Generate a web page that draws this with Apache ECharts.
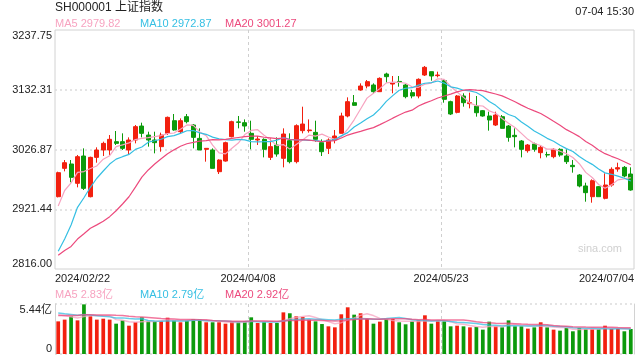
<!DOCTYPE html>
<html><head><meta charset="utf-8">
<script src="https://cdn.jsdelivr.net/npm/echarts@6/dist/echarts.min.js"></script>
<style>html,body{margin:0;padding:0;background:#fff}#c{width:640px;height:360px}</style>
</head><body><div id="c"></div>
<script>
const dates = [
'2024/02/22','2024/02/23','2024/02/26','2024/02/27','2024/02/28','2024/02/29',
'2024/03/01','2024/03/04','2024/03/05','2024/03/06','2024/03/07','2024/03/08','2024/03/11','2024/03/12','2024/03/13','2024/03/14','2024/03/15','2024/03/18','2024/03/19','2024/03/20','2024/03/21','2024/03/22','2024/03/25','2024/03/26','2024/03/27','2024/03/28','2024/03/29',
'2024/04/01','2024/04/02','2024/04/03','2024/04/08','2024/04/09','2024/04/10','2024/04/11','2024/04/12','2024/04/15','2024/04/16','2024/04/17','2024/04/18','2024/04/19','2024/04/22','2024/04/23','2024/04/24','2024/04/25','2024/04/26','2024/04/29','2024/04/30',
'2024/05/06','2024/05/07','2024/05/08','2024/05/09','2024/05/10','2024/05/13','2024/05/14','2024/05/15','2024/05/16','2024/05/17','2024/05/20','2024/05/21','2024/05/22','2024/05/23','2024/05/24','2024/05/27','2024/05/28','2024/05/29','2024/05/30','2024/05/31',
'2024/06/03','2024/06/04','2024/06/05','2024/06/06','2024/06/07','2024/06/11','2024/06/12','2024/06/13','2024/06/14','2024/06/17','2024/06/18','2024/06/19','2024/06/20','2024/06/21','2024/06/24','2024/06/25','2024/06/26','2024/06/27','2024/06/28',
'2024/07/01','2024/07/02','2024/07/03','2024/07/04'];

const opens = [2943.6,2993.6,3001.3,2967.2,3015.4,2943.6,3013.0,3026.0,3026.0,3040.7,
3040.7,3026.0,3043.6,3068.3,3052.4,3043.6,3031.9,3055.4,3077.7,3058.3,
3084.8,3070.1,3046.5,3027.2,3026.0,2987.7,3006.5,3049.5,3075.6,3074.2,
3055.4,3043.6,3044.8,3013.0,3034.8,3011.3,3042.4,3005.4,3060.1,3060.1,
3057.1,3038.9,3028.9,3043.6,3055.4,3086.0,3109.5,3131.9,3138.9,3140.7,
3128.9,3160.1,3142.4,3147.0,3140.7,3127.2,3121.3,3158.3,3164.2,3157.2,
3148.3,3111.3,3092.4,3121.3,3107.8,3103.6,3095.4,3086.0,3070.1,3084.8,
3068.3,3051.9,3041.9,3024.8,3036.6,3021.3,3017.9,3014.2,3027.2,3015.4,
2998.9,2981.9,2962.5,2943.6,2961.3,2940.7,2964.2,2992.4,2995.4,2983.6];
const closes = [2986.0,3003.6,2977.7,3014.2,2958.3,3013.0,3026.0,3037.7,3044.8,3037.7,
3028.9,3043.6,3067.2,3055.4,3043.6,3038.9,3052.4,3083.6,3061.3,3077.7,
3076.0,3048.3,3026.0,3028.9,2993.6,3008.3,3038.9,3076.0,3074.8,3068.3,
3044.8,3045.4,3027.2,3031.9,3018.9,3054.2,3005.4,3068.9,3071.8,3061.3,
3044.8,3023.0,3043.6,3050.7,3086.0,3111.3,3104.8,3138.9,3146.6,3128.9,
3152.4,3155.4,3144.8,3146.0,3120.1,3121.3,3150.7,3171.9,3156.6,3158.3,
3115.4,3089.5,3121.3,3109.5,3109.5,3091.8,3086.0,3078.9,3087.7,3064.2,
3048.3,3049.5,3027.2,3034.8,3027.2,3030.7,3017.2,3027.2,3017.2,3005.4,
2996.6,2962.5,2950.7,2971.9,2943.6,2964.2,2991.9,2994.8,2980.1,2955.4];
const lows = [2942.4,2988.3,2968.9,2960.1,2955.4,2942.4,3003.6,3015.4,3017.1,3034.8,
3026.0,3017.1,3037.7,3048.3,3031.9,3020.1,3023.0,3052.4,3060.1,3055.4,
3073.0,3028.9,3026.0,3005.4,2993.6,2983.6,3005.4,3048.3,3064.2,3058.3,
3027.2,3034.8,3013.0,3008.3,3014.2,2995.4,3002.4,3002.4,3055.4,3056.6,
3040.7,3015.4,3018.9,3037.7,3055.4,3083.6,3104.2,3130.7,3134.8,3126.0,
3128.3,3144.8,3126.0,3137.7,3117.2,3117.2,3117.2,3156.6,3148.3,3154.2,
3109.5,3087.7,3090.7,3102.4,3099.5,3084.8,3084.8,3060.1,3068.3,3064.2,
3040.7,3030.7,3013.0,3021.3,3023.0,3011.3,3013.0,3011.3,3014.2,3001.3,
2986.0,2960.1,2934.8,2933.0,2943.6,2938.9,2961.3,2987.7,2977.8,2954.2];
const highs = [2987.7,3008.3,3008.3,3017.2,3028.9,3014.2,3030.7,3040.7,3052.4,3059.5,
3055.4,3048.3,3070.1,3074.2,3058.3,3058.3,3056.6,3085.0,3089.5,3081.8,
3089.5,3071.8,3064.2,3029.5,3028.9,3009.5,3040.7,3077.7,3086.0,3080.0,
3077.7,3050.7,3046.5,3046.5,3048.3,3064.2,3055.4,3071.3,3102.4,3080.0,
3077.7,3044.8,3046.5,3061.3,3091.8,3118.9,3123.0,3143.6,3149.5,3143.6,
3154.2,3162.4,3156.6,3156.6,3142.4,3131.9,3152.4,3174.2,3164.2,3164.2,
3150.7,3113.0,3123.0,3126.0,3127.2,3121.3,3096.6,3093.6,3093.6,3087.7,
3070.1,3064.2,3043.6,3036.6,3038.9,3034.8,3023.0,3028.9,3028.9,3027.2,
3008.3,2983.6,2968.3,2974.2,2962.5,2984.8,2995.4,3003.6,2997.7,2995.4];
// volume, 亿
const volumes = [3.55,3.74,4.10,3.66,5.40,4.10,3.74,3.84,3.74,3.30,
3.66,3.08,3.48,3.99,3.55,3.55,3.55,3.95,3.66,3.45,
3.63,3.81,3.74,3.45,3.45,3.45,3.30,3.48,3.45,3.55,
3.99,3.37,3.45,3.37,3.37,4.53,4.43,4.10,4.03,3.74,
3.55,3.26,3.01,2.90,4.32,5.08,4.28,4.43,3.81,3.30,
3.52,3.81,3.81,3.45,3.23,3.55,3.66,4.21,3.30,3.55,
3.55,3.01,3.08,3.01,2.90,2.94,2.65,3.52,3.01,2.90,
3.66,3.01,3.01,2.76,2.90,3.45,2.90,2.65,2.54,2.83,
2.47,2.83,2.72,2.72,2.72,3.08,2.76,2.76,2.47,2.72];
// closes / volumes of the sessions before the window (feed the moving averages)
const priorCloses = [2833,2832,2756,2770,2820,2906,2910,2883,2830,2789,2788,2730,2702,2789,2829,2866,2910,2922,2951];
const priorVolumes = [3.7,4.1,3.8,4.0,3.9,4.2,3.8,3.9,4.0,4.0,4.5,4.8,4.7,4.6,4.6,4.4,4.6,4.3,4.55];

const yTickLabels = ['2816.00','2921.44','3026.87','3132.31','3237.75'];
const volTickLabels = ['0','5.44亿'];
const maLegend = ['MA5 2979.82','MA10 2972.87','MA20 3001.27'];
const volLegend = ['MA5 2.83亿','MA10 2.79亿','MA20 2.92亿'];
const titleText = 'SH000001 上证指数';
const timeText = '07-04 15:30';
const watermark = 'sina.com';

const RED = '#f2200f', GREEN = '#0c9a0c';
const MA_COLORS = ['#f7a3c0', '#35bfe3', '#ec4a7d'];
const FONT = '"Liberation Sans", Arial, "Noto Sans CJK SC", sans-serif';

function ma(n, vals, prior) {
  const all = prior.concat(vals);
  return vals.map((_, i) => {
    const end = prior.length + i;
    let s = 0;
    for (let k = end - n + 1; k <= end; k++) s += all[k];
    return +(s / n).toFixed(2);
  });
}

const kData = dates.map((_, i) => [opens[i], closes[i], lows[i], highs[i]]);
const volData = volumes.map((v, i) => ({ value: v, itemStyle: { color: closes[i] >= opens[i] ? RED : GREEN } }));

const chart = echarts.init(document.getElementById('c'), null, { renderer: 'canvas' });

const lineSeries = (name, data, color, xi, yi, w, op) => ({
  name, type: 'line', data, xAxisIndex: xi, yAxisIndex: yi, symbol: 'none', silent: true,
  lineStyle: { color, width: w, opacity: op }, z: 3
});

const legendTexts = (labels, y) => labels.map((t, i) => ({
  type: 'text', x: [55, 140, 225][i], y, silent: true,
  style: { text: t, fill: MA_COLORS[i], fontSize: 11, fontFamily: FONT, verticalAlign: 'middle' }
}));

chart.setOption({
  animation: false,
  textStyle: { fontFamily: FONT },
  grid: [
    { left: 55, right: 6, top: 30, height: 239, show: true, borderColor: '#d2d2d2', borderWidth: 1 },
    { left: 55, right: 6, top: 304, height: 50, show: false }
  ],
  xAxis: [
    { type: 'category', gridIndex: 0, data: dates, boundaryGap: true,
      axisLine: { show: false }, axisTick: { show: false }, axisLabel: { show: false }, splitLine: { show: false } },
    { type: 'category', gridIndex: 1, data: dates, boundaryGap: true,
      axisLine: { show: false }, axisTick: { show: false }, axisLabel: { show: false }, splitLine: { show: false } },
    { type: 'value', gridIndex: 0, min: 0, max: 90, interval: 30, position: 'bottom',
      axisLine: { show: false }, axisTick: { show: false },
      axisLabel: { show: true, color: '#222', fontSize: 11, margin: 4,
        formatter: v => dates[Math.min(v, dates.length - 1)],
        alignMinLabel: 'left', alignMaxLabel: 'right', showMinLabel: true, showMaxLabel: true },
      splitLine: { show: true, showMinLine: false, showMaxLine: false, lineStyle: { color: '#cfcfcf', type: [3, 3], width: 1 } } },
    { type: 'value', gridIndex: 1, min: 0, max: 90, interval: 30, position: 'bottom',
      axisLine: { show: false }, axisTick: { show: false }, axisLabel: { show: false },
      splitLine: { show: true, showMinLine: false, showMaxLine: false, lineStyle: { color: '#cfcfcf', type: [3, 3], width: 1 } } }
  ],
  yAxis: [
    { type: 'value', gridIndex: 0, min: 2816, max: 3237.75, interval: 105.4375,
      axisLine: { show: false }, axisTick: { show: false },
      axisLabel: { color: '#222', fontSize: 11, margin: 3, showMinLabel: true, showMaxLabel: true,
        formatter: (v, i) => yTickLabels[i],
        verticalAlignMinLabel: 'bottom', verticalAlignMaxLabel: 'top' },
      splitLine: { show: true, showMinLine: false, showMaxLine: false, lineStyle: { color: '#dcdcdc', type: [2, 3], width: 1.5 } } },
    { type: 'value', gridIndex: 1, min: 0, max: 5.44, interval: 5.44,
      axisLine: { show: true, lineStyle: { color: '#d2d2d2' } }, axisTick: { show: false },
      axisLabel: { color: '#222', fontSize: 11, margin: 3, showMinLabel: true, showMaxLabel: true,
        formatter: (v, i) => volTickLabels[i],
        verticalAlignMinLabel: 'bottom', verticalAlignMaxLabel: 'top' },
      splitLine: { show: true, lineStyle: { color: '#dcdcdc', type: [2, 3], width: 1.5 } } },
    { type: 'value', gridIndex: 1, min: 0, max: 5.44, position: 'right',
      axisLine: { show: true, lineStyle: { color: '#d2d2d2' } }, axisTick: { show: false },
      axisLabel: { show: false }, splitLine: { show: false } }
  ],
  series: [
    { name: 'K', type: 'candlestick', xAxisIndex: 0, yAxisIndex: 0, data: kData, barWidth: '70%', silent: true,
      itemStyle: { color: RED, color0: GREEN, borderColor: RED, borderColor0: GREEN, borderWidth: 1 }, z: 2 },
    lineSeries('MA5', ma(5, closes, priorCloses), MA_COLORS[0], 0, 0, 1.2, 1),
    lineSeries('MA10', ma(10, closes, priorCloses), MA_COLORS[1], 0, 0, 1.2, 1),
    lineSeries('MA20', ma(20, closes, priorCloses), MA_COLORS[2], 0, 0, 1.2, 1),
    { name: 'VOL', type: 'bar', xAxisIndex: 1, yAxisIndex: 1, data: volData, barWidth: '58%', silent: true, z: 2 },
    lineSeries('VMA5', ma(5, volumes, priorVolumes), MA_COLORS[0], 1, 1, 1.5, 0.75),
    lineSeries('VMA10', ma(10, volumes, priorVolumes), MA_COLORS[1], 1, 1, 1.5, 0.75),
    lineSeries('VMA20', ma(20, volumes, priorVolumes), MA_COLORS[2], 1, 1, 1.5, 0.75)
  ],
  graphic: [
    { type: 'text', x: 55, y: 8, silent: true,
      style: { text: titleText, fill: '#222', fontSize: 12, fontFamily: FONT, verticalAlign: 'middle' } },
    { type: 'text', x: 634, y: 12, silent: true,
      style: { text: timeText, fill: '#222', fontSize: 11, fontFamily: FONT, align: 'right', verticalAlign: 'middle' } },
    { type: 'text', x: 622, y: 249, silent: true, z: 1,
      style: { text: watermark, fill: '#d0d0d0', fontSize: 11, fontFamily: FONT, align: 'right', verticalAlign: 'middle' } }
  ].concat(legendTexts(maLegend, 24), legendTexts(volLegend, 295))
});
</script>
</body></html>
